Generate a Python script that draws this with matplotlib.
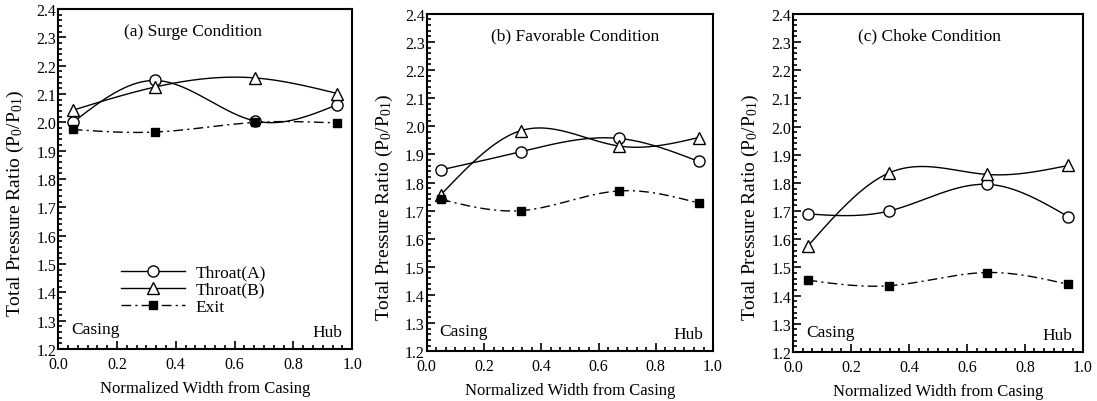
import numpy as np
import matplotlib
matplotlib.use('Agg')
import matplotlib.pyplot as plt
from matplotlib.ticker import MultipleLocator, FormatStrFormatter

plt.rcParams['font.family'] = 'Liberation Serif'
plt.rcParams['mathtext.fontset'] = 'custom'
plt.rcParams['mathtext.rm'] = 'Liberation Serif'
plt.rcParams['mathtext.it'] = 'Liberation Serif'

# === DATA ===
width_pos = [0.05, 0.33, 0.67, 0.95]

surge_throat_a = [2.00, 2.148, 2.005, 2.063]
surge_throat_b = [2.043, 2.125, 2.157, 2.102]
surge_exit = [1.975, 1.966, 2.000, 1.998]

fav_throat_a = [1.845, 1.910, 1.957, 1.875]
fav_throat_b = [1.757, 1.985, 1.930, 1.960]
fav_exit = [1.740, 1.700, 1.770, 1.727]

choke_throat_a = [1.690, 1.700, 1.795, 1.680]
choke_throat_b = [1.575, 1.835, 1.830, 1.862]
choke_exit = [1.455, 1.435, 1.482, 1.440]

titles = ['(a) Surge Condition', '(b) Favorable Condition', '(c) Choke Condition']
series_labels = ['Throat(A)', 'Throat(B)', 'Exit']


# === SMOOTH CURVE THROUGH THE MARKERS (natural cubic spline) ===
def smooth(xs, ys, n=200):
    x = np.asarray(xs, float)
    y = np.asarray(ys, float)
    k = len(x)
    h = np.diff(x)
    A = np.zeros((k, k))
    r = np.zeros(k)
    A[0, 0] = A[-1, -1] = 1
    for i in range(1, k - 1):
        A[i, i - 1] = h[i - 1]
        A[i, i] = 2 * (h[i - 1] + h[i])
        A[i, i + 1] = h[i]
        r[i] = 6 * ((y[i + 1] - y[i]) / h[i] - (y[i] - y[i - 1]) / h[i - 1])
    m = np.linalg.solve(A, r)
    xx = np.linspace(x[0], x[-1], n)
    yy = np.empty_like(xx)
    for j, t in enumerate(xx):
        i = min(np.searchsorted(x, t, side='right') - 1, k - 2)
        a = x[i + 1] - t
        b = t - x[i]
        yy[j] = (m[i] * a ** 3 + m[i + 1] * b ** 3) / (6 * h[i]) \
            + (y[i] / h[i] - m[i] * h[i] / 6) * a \
            + (y[i + 1] / h[i] - m[i + 1] * h[i] / 6) * b
    return xx, yy


panels = [
    (surge_throat_a, surge_throat_b, surge_exit),
    (fav_throat_a, fav_throat_b, fav_exit),
    (choke_throat_a, choke_throat_b, choke_exit),
]
axes_pos = [
    [0.053, 0.129, 0.268, 0.846],
    [0.389, 0.124, 0.261, 0.839],
    [0.723, 0.122, 0.264, 0.841],
]
title_x = [0.46, 0.52, 0.47]

fig = plt.figure(figsize=(10.97, 4.02), dpi=100)

styles = [
    dict(ls='-', marker='o', mfc='white', mec='black', ms=8),
    dict(ls='-', marker='^', mfc='white', mec='black', ms=8.5),
    dict(ls=(0, (7, 3, 1.5, 3)), marker='s', mfc='black', mec='black', ms=6),
]

for p, (data, pos) in enumerate(zip(panels, axes_pos)):
    ax = fig.add_axes(pos)
    for s, (vals, st) in enumerate(zip(data, styles)):
        xx, yy = smooth(width_pos, vals)
        ax.plot(xx, yy, color='black', lw=1.0, ls=st['ls'])
        ax.plot(width_pos, vals, ls='none', marker=st['marker'],
                mfc=st['mfc'], mec=st['mec'], ms=st['ms'], mew=1.0, zorder=5)
        if p == 0:
            ax.plot([], [], color='black', lw=1.0, ls=st['ls'], marker=st['marker'],
                    mfc=st['mfc'], mec=st['mec'], ms=st['ms'], label=series_labels[s])

    ax.set_xlim(0, 1.0)
    ax.set_ylim(1.2, 2.4)
    ax.xaxis.set_major_locator(MultipleLocator(0.2))
    ax.xaxis.set_minor_locator(MultipleLocator(0.2 / 6))
    ax.yaxis.set_major_locator(MultipleLocator(0.1))
    ax.yaxis.set_minor_locator(MultipleLocator(0.02))
    ax.xaxis.set_major_formatter(FormatStrFormatter('%.1f'))
    ax.yaxis.set_major_formatter(FormatStrFormatter('%.1f'))
    ax.tick_params(which='both', direction='in', top=False, right=False,
                   labelsize=11.5, width=1.2)
    ax.tick_params(axis='x', pad=5)
    ax.tick_params(axis='y', pad=1.5)
    ax.tick_params(which='major', length=6)
    ax.tick_params(which='minor', length=3)
    for sp in ax.spines.values():
        sp.set_linewidth(1.5)

    ax.set_xlabel('Normalized Width from Casing', fontsize=12, labelpad=6)
    ax.set_ylabel(r'Total Pressure Ratio (P$_0$/P$_{01}$)', fontsize=14)
    ax.yaxis.set_label_coords(-0.11, 0.43)
    ax.text(title_x[p], 0.935, titles[p], transform=ax.transAxes,
            ha='center', va='center', fontsize=12.5)
    ax.text(0.045, 0.06, 'Casing', transform=ax.transAxes,
            ha='left', va='center', fontsize=12.5)
    ax.text(0.965, 0.05, 'Hub', transform=ax.transAxes,
            ha='right', va='center', fontsize=12.5)

    if p == 0:
        ax.legend(loc='center left', bbox_to_anchor=(0.16, 0.175), frameon=False,
                  handlelength=3.7, numpoints=1, fontsize=12.5,
                  labelspacing=0.05, handletextpad=0.6)

fig.savefig('out.png', dpi=100)
